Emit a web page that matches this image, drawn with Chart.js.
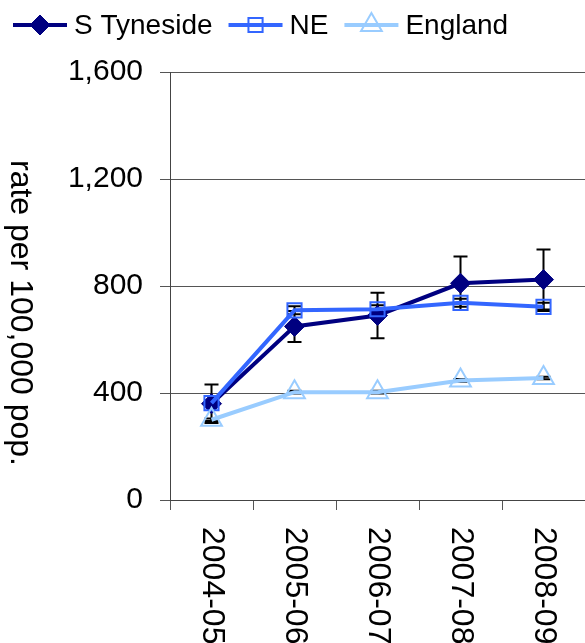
<!DOCTYPE html>
<html>
<head>
<meta charset="utf-8">
<script src="https://cdn.jsdelivr.net/npm/chart.js@4.4.1/dist/chart.umd.min.js"></script>
<style>
  body { margin: 0; background: #fff; }
</style>
</head>
<body>
<canvas id="myChart" width="585" height="643"></canvas>
<script>
const years = ['2004-05', '2005-06', '2006-07', '2007-08', '2008-09'];
const seriesNames = ['S Tyneside', 'NE', 'England'];
const sTyneside = [360, 649, 690, 810, 824];
const sTynesideErr = [72, 58, 85, 100, 112];
const northEast = [362, 709, 713, 737, 722];
const northEastErr = [10, 15, 15, 15, 15];
const england = [300, 403, 403, 447, 456];
const englandErr = [5, 5, 5, 5, 5];
const yTicks = [0, 400, 800, 1200, 1600];
const yTitle = 'rate per 100,000 pop.';

const FONT = "'Liberation Sans', Arial, sans-serif";

function makeDataset(label, values, errors, color, style, radius, filled, order) {
    return {
        label: label,
        data: values,
        errors: errors,
        borderColor: color,
        borderWidth: 4,
        pointStyle: style,
        pointRadius: radius,
        pointHoverRadius: radius,
        pointBorderWidth: filled ? 1 : 2,
        pointBorderColor: color,
        pointBackgroundColor: filled ? color : 'rgba(0,0,0,0)',
        tension: 0,
        order: order
    };
}

// error bars sit under the markers
const errorBars = {
    id: 'errorBars',
    beforeDatasetsDraw(chart) {
        const ctx = chart.ctx;
        const y = chart.scales.y;
        ctx.save();
        ctx.strokeStyle = '#000';
        ctx.lineWidth = 2;
        chart.data.datasets.forEach((ds, di) => {
            const meta = chart.getDatasetMeta(di);
            meta.data.forEach((pt, i) => {
                const top = y.getPixelForValue(ds.data[i] + ds.errors[i]);
                const bot = y.getPixelForValue(ds.data[i] - ds.errors[i]);
                ctx.beginPath();
                ctx.moveTo(pt.x, top); ctx.lineTo(pt.x, bot);
                ctx.moveTo(pt.x - 7, top); ctx.lineTo(pt.x + 7, top);
                ctx.moveTo(pt.x - 7, bot); ctx.lineTo(pt.x + 7, bot);
                ctx.stroke();
            });
        });
        ctx.restore();
    }
};

// rotated texts + legend with line and marker
const extras = {
    id: 'extras',
    afterDraw(chart) {
        const ctx = chart.ctx;
        const x = chart.scales.x;
        ctx.save();
        ctx.fillStyle = '#000';

        ctx.font = '32px ' + FONT;
        ctx.textAlign = 'left';
        ctx.textBaseline = 'middle';
        years.forEach((lab, i) => {
            ctx.save();
            ctx.translate(x.getPixelForValue(i), 527);
            ctx.rotate(Math.PI / 2);
            ctx.fillText(lab, 0, 0);
            ctx.restore();
        });

        ctx.save();
        ctx.font = '32px ' + FONT;
        ctx.translate(20, 313);
        ctx.rotate(Math.PI / 2);
        ctx.textAlign = 'center';
        ctx.fillText(yTitle, 0, 0);
        ctx.restore();

        // legend
        ctx.font = '28px ' + FONT;
        let lx = 13;
        const ly = 25;
        chart.data.datasets.forEach((ds) => {
            ctx.strokeStyle = ds.borderColor;
            ctx.lineWidth = 4;
            ctx.beginPath();
            ctx.moveTo(lx, ly); ctx.lineTo(lx + 54, ly);
            ctx.stroke();
            ctx.fillStyle = ds.pointBackgroundColor;
            ctx.strokeStyle = ds.pointBorderColor;
            ctx.lineWidth = ds.pointBorderWidth;
            Chart.helpers.drawPoint(ctx, {
                pointStyle: ds.pointStyle,
                radius: ds.pointRadius,
                rotation: 0,
                borderWidth: ds.pointBorderWidth
            }, lx + 27, ly);
            ctx.fillStyle = '#000';
            ctx.textAlign = 'left';
            ctx.fillText(ds.label, lx + 61, ly + 1);
            lx += 61 + ctx.measureText(ds.label).width + 16;
        });
        ctx.restore();
    }
};

const data = {
    labels: years,
    datasets: [
        makeDataset(seriesNames[0], sTyneside, sTynesideErr, '#000080', 'rectRot', 10, true, 2),
        makeDataset(seriesNames[1], northEast, northEastErr, '#3366ff', 'rect', 10, false, 1),
        makeDataset(seriesNames[2], england, englandErr, '#99ccff', 'triangle', 12, false, 0)
    ]
};

new Chart(document.getElementById('myChart'), {
    type: 'line',
    data: data,
    plugins: [errorBars, extras],
    options: {
        responsive: false,
        devicePixelRatio: 1,
        animation: false,
        layout: { autoPadding: false, padding: { top: 72, left: 0, right: -2, bottom: 0 } },
        scales: {
            x: {
                offset: true,
                grid: {
                    offset: true,
                    drawOnChartArea: false,
                    tickLength: 10,
                    color: '#555'
                },
                border: { color: '#444', width: 1 },
                ticks: { display: false },
                afterFit(scale) { scale.height = 143; }
            },
            y: {
                min: 0,
                max: 1600,
                afterBuildTicks(scale) {
                    scale.ticks = yTicks.map(v => ({ value: v }));
                },
                grid: { color: '#555', tickLength: 10 },
                border: { color: '#444', width: 1 },
                ticks: {
                    padding: 17,
                    color: '#000',
                    font: { family: FONT, size: 30 },
                    callback: v => v.toLocaleString('en-US')
                },
                afterFit(scale) { scale.width = 170; }
            }
        },
        plugins: {
            legend: { display: false },
            tooltip: { enabled: false }
        }
    }
});
</script>
</body>
</html>
